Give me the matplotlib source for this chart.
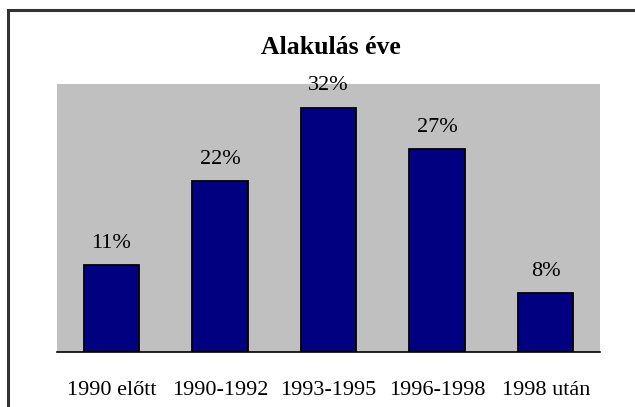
import matplotlib.pyplot as plt
from matplotlib.patches import Rectangle

categories = ['1990 előtt', '1990-1992', '1993-1995', '1996-1998', '1998 után']
values = [11.4, 22.4, 32.0, 26.6, 7.7]
labels = ['11%', '22%', '32%', '27%', '8%']

plt.rcParams['font.family'] = ['Liberation Serif', 'DejaVu Serif']

fig = plt.figure(figsize=(6.35, 4.07), dpi=100)
W, H = 635, 407

# outer frame (right and bottom edges run off the image)
fig.patches.append(Rectangle((8 / W, -0.05), 1.0, 1 - 10 / H + 0.05,
                             transform=fig.transFigure, fill=False,
                             edgecolor='#333333', linewidth=2.2))

ax = fig.add_axes([57 / W, 1 - 352 / H, (600 - 57) / W, (352 - 84) / H])
ax.set_facecolor('#C0C0C0')

x = range(len(categories))
ax.bar(x, values, width=0.51, color='#000080', edgecolor='black', linewidth=1.3)

for i, (v, t) in enumerate(zip(values, labels)):
    ax.annotate(t, (i, v), xytext=(0, 12.5), textcoords='offset points',
                ha='center', va='baseline', fontsize=16,
                annotation_clip=False)

ax.set_xlim(-0.5, 4.5)
ax.set_ylim(0, 35.1)
ax.set_xticks(list(x))
ax.set_xticklabels(categories, fontsize=16)
ax.tick_params(axis='x', length=0, pad=21)
ax.set_yticks([])
for s in ['top', 'left', 'right']:
    ax.spines[s].set_visible(False)
ax.spines['bottom'].set_linewidth(1.2)

fig.text(331 / W, 1 - 48 / H, 'Alakulás éve', ha='center', va='center',
         fontsize=18.5, fontweight='bold')

fig.savefig('out.png', dpi=100)
